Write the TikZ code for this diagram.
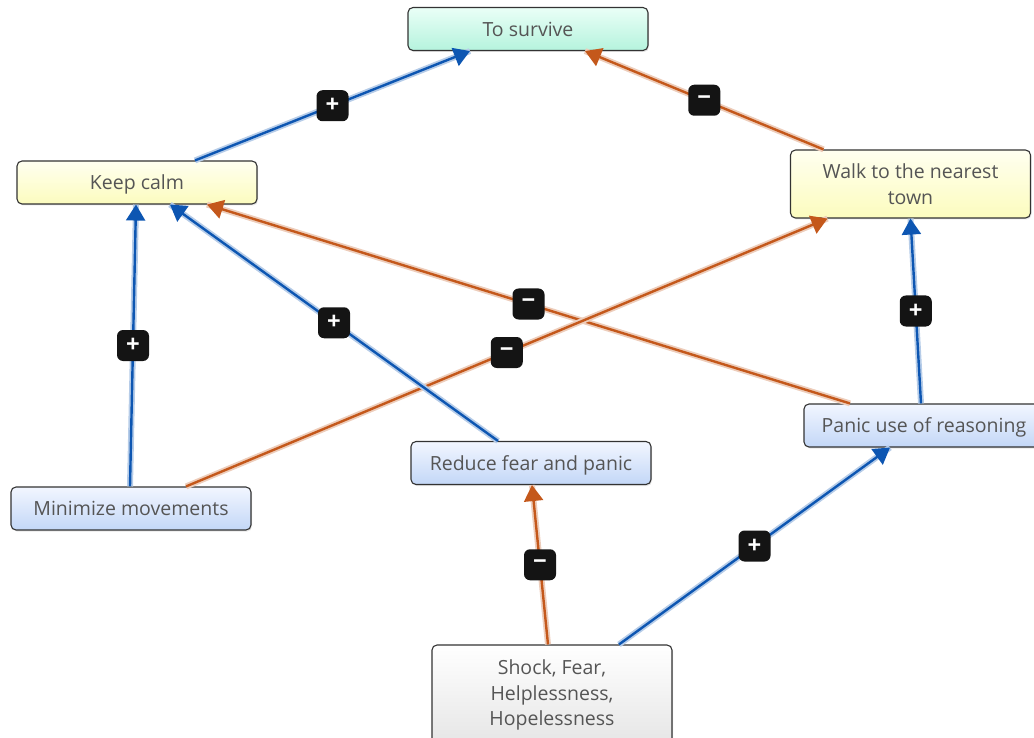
\documentclass[tikz,border=0pt]{standalone}
\usepackage{fontspec}
\setmainfont{Open Sans}
\usetikzlibrary{arrows.meta,shadows}
\definecolor{linkblue}{HTML}{0D56B2}
\definecolor{linkorange}{HTML}{C4581B}
\definecolor{txtgray}{HTML}{555555}
\definecolor{mintBot}{HTML}{B5F3DD}
\definecolor{mintTop}{HTML}{EAFFF7}
\definecolor{yelTop}{HTML}{FFFFF0}
\definecolor{yelBot}{HTML}{FCFCBE}
\definecolor{bluTop}{HTML}{F2F6FF}
\definecolor{bluBot}{HTML}{C3D7F7}
\tikzset{
  box/.style={draw=black!80, line width=1.1pt, rounded corners=5pt, minimum width=240pt,
    minimum height=43pt, align=center, text=txtgray, font=\fontsize{19.5}{25.5}\selectfont,
    drop shadow={opacity=0.2, shadow xshift=1pt, shadow yshift=-1.5pt}},
  oneline/.style={text depth=0pt},
  goal/.style={box, top color=mintTop, bottom color=mintBot},
  yel/.style={box, top color=yelTop, bottom color=yelBot},
  blu/.style={box, top color=bluTop, bottom color=bluBot},
  gry/.style={box, top color=white, bottom color=black!10},
  pos link/.style={draw=linkblue, line width=2.4pt, -{Triangle[length=16pt,width=19pt]},
    preaction={draw=linkblue!30, line width=6pt, arrows=-}},
  neg link/.style={draw=linkorange, line width=2.4pt, -{Triangle[length=16pt,width=19pt]},
    preaction={draw=linkorange!30, line width=6pt, arrows=-}},
  badge/.style={fill=black!92, rounded corners=6pt, minimum width=32pt, minimum height=31pt,
    inner sep=0pt, text=white, font=\fontsize{24}{24}\selectfont\bfseries},
}
\begin{document}
\begin{tikzpicture}[x=1pt,y=-1pt]
\useasboundingbox (0,0) rectangle (1034,738);
% nodes
\node[goal, oneline] (ts) at (528,29) {To survive};
\node[yel, oneline] (kc) at (137,182.5) {Keep calm};
\node[yel, minimum height=68pt] (wt) at (910.5,184) {Walk to the nearest\\town};
\node[blu, oneline] (pr) at (924,425.5) {Panic use of reasoning};
\node[blu, oneline] (rf) at (531,463) {Reduce fear and panic};
\node[blu, oneline] (mm) at (131,508.5) {Minimize movements};
\node[gry, minimum height=100pt] (sh) at (552,695) {Shock, Fear,\\Helplessness,\\Hopelessness};
% links
\path[pos link] ([xshift=58pt]kc.north) -- node[badge]{+} ([xshift=-58pt]ts.south);
\path[neg link] ([xshift=-87pt]wt.north) -- node[badge]{\textminus} ([xshift=57pt]ts.south);
\path[neg link] ([xshift=-74pt]pr.north) -- node[badge]{\textminus} ([xshift=70pt]kc.south);
\path[neg link] ([xshift=55pt]mm.north) -- node[badge]{\textminus} ([xshift=-83pt]wt.south);
\path[pos link] ([xshift=-1pt]mm.north) -- node[badge]{+} ([xshift=-1pt]kc.south);
\path[pos link] ([xshift=-33pt]rf.north) -- node[badge]{+} ([xshift=33pt]kc.south);
\path[pos link] ([xshift=-3pt]pr.north) -- node[badge]{+} (wt.south);
\path[neg link] ([xshift=-4pt]sh.north) -- node[badge]{\textminus} ([xshift=1pt]rf.south);
\path[pos link] ([xshift=67pt]sh.north) -- node[badge]{+} ([xshift=-34pt]pr.south);
\end{tikzpicture}
\end{document}
